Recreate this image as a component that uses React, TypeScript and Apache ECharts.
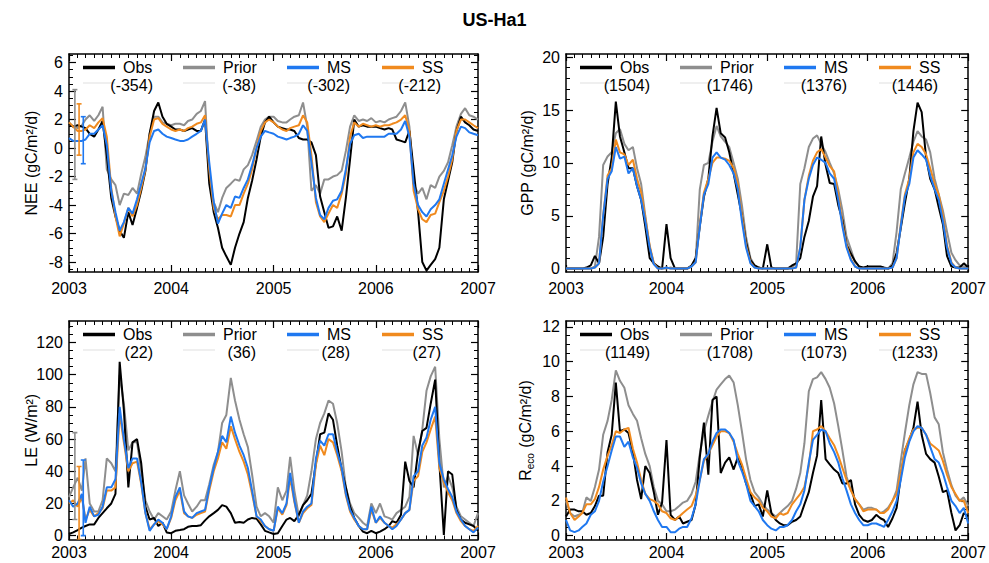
import React, { useEffect, useRef } from 'react';
import * as echarts from 'echarts';

const FONT = '"Liberation Sans", Arial, sans-serif';

// ---------- series meta ----------
const SERIES_NAMES = ['Obs', 'Prior', 'MS', 'SS'];
const SERIES_COLORS = ['#000000', '#8e8e8e', '#1f78f0', '#f08a1e'];
const DRAW_ORDER = [1, 0, 3, 2];
const YEARS = [2003, 2004, 2005, 2006, 2007];

// ---------- sample dates: 1st and 16th of each month, 2003-2006, plus 1 Jan 2007 ----------
const START = Date.UTC(2003, 0, 1);
const dayOf = (y: number, m: number, d: number) => (Date.UTC(y, m, d) - START) / 86400000;
const SAMPLE_DAYS: number[] = [];
for (let y = 2003; y <= 2006; y++) {
  for (let m = 0; m < 12; m++) {
    SAMPLE_DAYS.push(dayOf(y, m, 1));
    SAMPLE_DAYS.push(dayOf(y, m, 16));
  }
}
SAMPLE_DAYS.push(dayOf(2007, 0, 1));

// ---------- NEE (gC/m2/d) ----------
const NEE_OBS = [
  1.7, 1.5, 1.6, 1.5, 1.4, 1.0, 0.8, 1.3, 1.9, -0.5, -3.5, -4.8, -5.8, -6.3, -4.5, -5.4, -4.2, -3.0, -1.6, 1.0, 2.6, 3.2, 2.2, 1.7,
  1.5, 1.3, 1.3, 1.2, 1.3, 1.4, 1.2, 1.2, 2.0, -2.5, -4.5, -5.6, -7.0, -7.6, -8.2, -7.0, -6.0, -5.2, -3.5, -2.3, -0.8, 0.8, 1.8, 2.2,
  1.8, 1.5, 1.4, 1.3, 1.3, 1.2, 0.7, 0.6, 0.6, 0.4, -0.5, -3.4, -4.5, -5.6, -5.5, -4.8, -5.8, -3.5, -0.8, 2.0, 1.5, 1.6, 1.5, 1.5,
  1.5, 1.4, 1.3, 1.4, 1.3, 0.6, 0.5, 0.4, 1.2, -1.5, -4.5, -8.0, -8.6, -8.2, -7.8, -7.0, -3.6, -2.3, -1.0, 1.2, 2.2, 1.8, 1.6, 1.3,
  1.2,
];
const NEE_PRIOR = [
  1.8, 1.5, 1.4, 1.6, 2.0, 2.3, 1.9, 2.3, 2.9, -1.5, -2.2, -2.6, -4.0, -3.2, -3.3, -2.8, -3.2, -1.8, -0.6, 1.0, 2.2, 2.2, 1.8, 1.7,
  1.6, 1.7, 1.7, 1.6, 1.9, 2.0, 2.4, 2.6, 3.3, -2.0, -3.8, -4.5, -3.5, -2.8, -2.5, -2.2, -2.3, -1.5, -1.2, -0.5, 0.5, 1.5, 2.0, 2.2,
  2.2, 1.9, 1.8, 1.8, 2.0, 2.2, 2.3, 3.2, 1.5, -3.0, -2.6, -3.2, -2.2, -2.2, -2.0, -1.9, -1.6, -0.2, 1.5, 2.3, 1.9, 2.0, 1.9, 2.1,
  1.8, 1.9, 1.8, 2.0, 2.1, 2.2, 2.6, 3.2, 1.5, -2.5, -3.2, -2.8, -3.6, -2.6, -2.8, -2.0, -1.6, -1.0, 0.2, 1.5, 2.4, 2.8, 2.3, 2.2,
  2.0,
];
const NEE_MS = [
  0.7, 0.5, 0.5, 0.5, 0.6, 1.0, 1.0, 1.3, 1.6, 0.2, -3.0, -4.5, -5.8, -5.2, -4.2, -4.6, -3.6, -2.5, -1.4, 0.4, 1.2, 1.3, 1.0, 0.8,
  0.7, 0.6, 0.5, 0.5, 0.6, 0.8, 1.0, 1.2, 2.0, -1.0, -3.8, -5.3, -4.6, -4.0, -4.2, -3.4, -3.5, -2.8, -2.2, -1.2, 0.0, 0.8, 1.2, 1.1,
  1.0, 0.8, 0.7, 0.6, 0.7, 0.8, 1.0, 1.6, 1.2, -1.0, -3.5, -4.7, -5.0, -4.2, -3.7, -3.6, -3.0, -1.5, 0.3, 0.9, 1.0, 0.7, 0.8, 0.8,
  0.8, 0.8, 0.8, 1.0, 1.0, 1.0, 1.3, 1.9, 0.8, -2.5, -4.0, -4.5, -4.8, -4.3, -4.0, -3.6, -2.5, -1.5, -0.5, 0.8, 1.5, 1.4, 1.1, 1.0,
  0.9,
];
const NEE_SS = [
  1.8, 1.5, 1.2, 1.2, 1.3, 1.6, 1.4, 1.8, 2.1, 0.8, -2.8, -4.8, -6.2, -5.3, -4.2, -4.8, -4.0, -2.8, -1.5, 0.8, 2.0, 2.1, 1.7, 1.5,
  1.3, 1.2, 1.3, 1.2, 1.4, 1.5, 1.7, 1.8, 2.3, -1.5, -4.2, -5.0, -4.7, -4.7, -4.8, -4.0, -4.0, -3.2, -2.5, -1.5, 0.0, 1.2, 1.8, 2.0,
  1.8, 1.5, 1.3, 1.2, 1.4, 1.5, 1.6, 2.3, 1.8, -0.5, -3.8, -4.8, -5.2, -4.6, -4.0, -4.2, -3.2, -1.8, 0.8, 1.8, 1.5, 1.7, 1.6, 1.5,
  1.6, 1.5, 1.6, 1.6, 1.7, 1.8, 2.0, 2.3, 1.2, -3.0, -4.3, -5.0, -5.2, -4.7, -4.6, -3.8, -3.0, -2.0, -0.8, 1.2, 2.0, 2.0, 1.8, 1.6,
  1.4,
];
const NEE_TOTALS = [-354, -38, -302, -212];

// ---------- GPP (gC/m2/d) ----------
const GPP_OBS = [
  0, 0, 0, 0, 0, 0.1, 0.3, 1.2, 0.5, 3.0, 8.0, 10.5, 15.8, 12.5, 11.0, 9.5, 9.5, 7.8, 6.5, 4.0, 1.0, 0.5, 0.2, 0,
  4.2, 1.0, 0, 0, 0, 0, 0.3, 1.0, 4.0, 6.8, 8.5, 12.5, 15.2, 12.8, 12.4, 11.0, 9.0, 7.0, 5.0, 2.5, 0.8, 0.3, 0.1, 0,
  2.3, 0.1, 0, 0, 0, 0, 0.3, 0.5, 1.0, 3.0, 4.5, 6.8, 7.8, 12.5, 9.8, 8.1, 8.0, 6.0, 4.6, 2.3, 1.4, 0.7, 0.2, 0.1,
  0.2, 0.2, 0.2, 0.2, 0.1, 0, 0.3, 1.5, 3.8, 6.2, 8.5, 13.0, 15.7, 14.8, 10.5, 8.5, 7.5, 5.8, 4.2, 1.2, 0.2, 0.1, 0.1, 0.5,
  0.1,
];
const GPP_PRIOR = [
  0, 0, 0, 0, 0, 0, 0, 0.2, 3.0, 9.8, 10.6, 11.0, 12.8, 13.2, 11.8, 11.2, 11.5, 9.5, 8.0, 5.0, 2.0, 0.5, 0.1, 0,
  0, 0.1, 0, 0, 0, 0, 0.2, 0.8, 7.5, 9.8, 10.0, 12.0, 13.5, 12.5, 12.0, 11.5, 10.0, 8.5, 6.0, 3.0, 1.0, 0.3, 0.1, 0,
  0, 0, 0, 0, 0, 0, 0.1, 0.5, 8.0, 9.5, 11.5, 12.3, 12.6, 11.8, 11.0, 10.0, 9.0, 7.5, 5.5, 3.0, 1.8, 0.6, 0.2, 0,
  0, 0, 0, 0, 0, 0, 0.5, 3.5, 7.5, 9.0, 10.5, 12.0, 13.0, 12.5, 12.2, 11.0, 8.5, 7.0, 5.5, 3.5, 1.5, 0.8, 0.3, 0.2,
  0,
];
const GPP_MS = [
  0, 0, 0, 0, 0, 0, 0, 0.1, 0.5, 5.0, 8.5, 9.2, 11.5, 10.4, 10.6, 9.0, 9.5, 7.8, 6.5, 4.5, 2.0, 0.4, 0, 0,
  0.1, 0, 0, 0, 0, 0, 0.2, 0.6, 4.0, 7.0, 8.0, 10.5, 11.0, 10.5, 10.3, 9.8, 9.0, 7.5, 4.5, 2.0, 0.5, 0.1, 0, 0,
  0, 0, 0, 0, 0, 0, 0, 0.1, 2.0, 6.5, 8.5, 9.8, 10.5, 10.3, 10.0, 9.0, 8.5, 6.5, 4.0, 2.0, 0.8, 0.2, 0, 0,
  0, 0, 0, 0, 0, 0, 0.1, 1.0, 4.0, 6.8, 8.0, 10.5, 11.2, 10.8, 10.3, 8.8, 7.5, 6.5, 4.5, 2.0, 0.5, 0.1, 0, 0,
  0,
];
const GPP_SS = [
  0, 0, 0, 0, 0, 0, 0, 0.1, 0.5, 5.0, 8.8, 9.5, 12.2, 11.0, 10.8, 9.8, 10.3, 8.5, 7.2, 4.8, 2.2, 0.5, 0, 0,
  0.1, 0, 0, 0, 0, 0, 0.2, 0.6, 4.2, 7.2, 8.5, 10.0, 10.5, 10.5, 10.4, 10.2, 9.5, 8.0, 5.0, 2.2, 0.6, 0.1, 0, 0,
  0, 0, 0, 0, 0, 0, 0, 0.1, 2.0, 6.5, 8.8, 10.2, 11.0, 11.3, 10.5, 9.7, 9.2, 7.0, 4.3, 2.2, 0.9, 0.2, 0, 0,
  0, 0, 0, 0, 0, 0, 0.1, 1.0, 4.2, 7.0, 8.5, 11.0, 11.8, 11.5, 10.8, 9.5, 8.0, 7.0, 5.0, 2.2, 0.6, 0.1, 0, 0,
  0,
];
const GPP_TOTALS = [1504, 1746, 1376, 1446];

// ---------- LE (W/m2) ----------
const LE_OBS = [
  1, 2, 3.5, 5, 6, 7, 7, 11, 14, 17, 20, 26, 108, 78, 30, 58, 60, 45, 18, 10, 11, 6, 8, 2,
  1.5, 3, 3.5, 4, 5.5, 6, 6, 6.5, 9.5, 12, 14, 16, 19, 18, 14, 8, 8.5, 8, 10, 11, 10.5, 7, 3, 2,
  1, 1.5, 6, 10, 11, 9, 13, 19, 22, 26, 45, 63, 64, 76, 72, 56, 41, 30, 18, 11, 6, 2.5, 1.5, 3,
  1.5, 2.5, 4, 6, 9, 8, 13, 46, 34, 30, 52, 65, 67, 82, 97, 45, 0.5, 40, 38, 16, 10, 8, 7, 6,
  3,
];
const LE_PRIOR = [
  24, 30, 36, 28, 48, 20, 15, 15, 22, 48, 45, 40, 100, 82, 53, 58, 58, 40, 22, 15, 10, 14, 12, 10,
  15, 28, 40, 25, 20, 15, 18, 22, 22, 32, 44, 52, 70, 75, 98, 84, 72, 63, 55, 38, 18, 12, 14, 12,
  8, 30, 22, 28, 49, 28, 12, 19, 25, 40, 60, 70, 76, 84, 82, 70, 52, 30, 20, 14, 11, 8, 6, 20,
  14, 20, 12, 11, 10, 14, 16, 18, 24, 62, 50, 66, 90, 99, 105, 60, 30, 37, 30, 18, 12, 10, 8, 6,
  14,
];
const LE_MS = [
  22, 18, 20, 26, 8, 18, 12, 13, 18, 30, 30, 35, 80, 60, 42, 48, 48, 33, 14, 3, 7, 10, 8, 4,
  12, 24, 30, 15, 12, 11, 14, 15, 16, 30, 42, 52, 62, 58, 74, 64, 56, 50, 42, 28, 12, 10, 6, 4,
  3, 18, 14, 20, 39, 22, 8, 15, 18, 20, 48, 59, 56, 63, 63, 52, 42, 26, 16, 11, 6, 4, 4, 18,
  8, 12, 8, 6, 4, 6, 10, 14, 16, 37, 40, 56, 61, 72, 80, 45, 35, 29, 24, 15, 10, 6, 4, 2,
  5,
];
const LE_SS = [
  20, 22, 18, 24, 10, 16, 12, 14, 17, 28, 28, 30, 76, 58, 40, 45, 46, 32, 14, 4, 7, 9, 7, 4,
  11, 22, 28, 14, 12, 11, 13, 14, 15, 28, 40, 48, 58, 54, 68, 60, 52, 46, 38, 26, 12, 9, 6, 4,
  3, 17, 13, 19, 36, 21, 8, 14, 17, 19, 44, 56, 50, 60, 58, 50, 40, 25, 15, 10, 6, 4, 4, 16,
  8, 11, 8, 6, 5, 7, 10, 14, 16, 34, 37, 52, 58, 66, 74, 42, 33, 27, 22, 14, 9, 6, 4, 3,
  6,
];
const LE_TOTALS = [22, 36, 28, 27];

// ---------- Reco (gC/m2/d) ----------
const RECO_OBS = [
  1.1, 1.5, 1.5, 1.4, 1.4, 1.2, 1.3, 1.7, 2.3, 2.3, 4.8, 5.8, 8.8, 6.0, 6.1, 5.9, 4.8, 3.2, 2.1, 4.0, 3.6, 2.5, 1.2, 1.9,
  5.5, 1.2, 0.9, 1.1, 0.7, 0.8, 0.9, 1.8, 4.5, 6.5, 3.5, 7.8, 8.0, 3.6, 4.2, 4.5, 3.8, 4.5, 4.0, 3.0, 2.4, 1.7, 1.8, 1.1,
  2.6, 1.3, 0.9, 0.7, 0.6, 0.6, 0.8, 0.9, 1.1, 1.8, 2.5, 3.6, 4.6, 7.8, 4.4, 4.1, 3.8, 3.6, 3.0, 3.0, 3.2, 1.8, 1.2, 0.9,
  0.8, 0.9, 1.2, 1.0, 0.9, 0.5, 1.0, 1.6, 3.4, 4.9, 5.5, 6.2, 7.7, 5.8, 4.7, 4.4, 4.2, 3.4, 2.5, 2.6, 1.3, 0.3, 0.6, 1.3,
  1.1,
];
const RECO_PRIOR = [
  2.0, 1.3, 1.1, 1.2, 1.3, 2.2, 2.0, 2.8, 3.8, 5.8, 6.6, 7.8, 9.5, 8.9, 8.5, 7.5, 7.0, 6.6, 5.6, 4.7, 4.0, 2.8, 2.0, 1.8,
  1.4, 1.4, 1.5, 1.7, 1.9, 2.0, 2.4, 3.1, 4.7, 6.0, 6.9, 7.7, 8.4, 8.7, 9.0, 9.2, 8.8, 7.5, 6.0, 4.4, 3.2, 2.5, 2.2, 1.8,
  1.5, 1.3, 1.1, 1.3, 1.5, 1.7, 2.0, 2.7, 3.6, 5.3, 8.3, 9.0, 9.1, 9.4, 9.0, 8.5, 7.6, 6.3, 4.9, 3.4, 2.6, 2.1, 1.8, 1.5,
  1.6, 1.6, 1.5, 1.3, 1.4, 1.6, 2.0, 2.6, 4.3, 5.9, 7.5, 8.7, 9.4, 9.3, 9.3, 8.2, 6.8, 6.4, 4.8, 3.8, 2.9, 2.3, 2.0, 2.2,
  1.7,
];
const RECO_MS = [
  0.9, 0.3, 0.2, 0.3, 0.5, 0.7, 1.2, 1.4, 2.0, 3.1, 4.0, 4.9, 5.7, 5.7, 5.1, 5.4, 4.5, 3.9, 3.0, 2.4, 2.0, 1.4, 0.9, 0.5,
  0.5, 0.2, 0.2, 0.4, 0.5, 0.5, 1.0, 1.8, 3.2, 4.4, 4.7, 5.4, 5.9, 6.1, 6.1, 5.9, 5.5, 4.3, 3.7, 3.0, 2.0, 1.7, 1.4, 0.9,
  0.6, 0.4, 0.3, 0.5, 0.5, 0.6, 0.9, 1.4, 1.8, 2.6, 4.2, 5.5, 5.8, 6.1, 6.0, 5.3, 4.8, 4.2, 3.3, 2.6, 1.8, 1.3, 0.9, 0.6,
  0.6, 0.7, 0.7, 0.6, 0.5, 0.9, 1.4, 2.0, 3.2, 4.5, 5.4, 6.0, 6.3, 6.2, 5.8, 5.1, 4.4, 4.2, 3.6, 2.8, 2.0, 1.7, 1.3, 1.6,
  0.7,
];
const RECO_SS = [
  2.2, 1.3, 0.9, 1.1, 1.3, 1.8, 1.8, 2.1, 2.8, 3.8, 4.6, 5.2, 6.0, 5.9, 6.1, 6.2, 5.0, 4.2, 3.2, 2.4, 2.1, 2.0, 1.8, 1.4,
  1.3, 1.0, 0.9, 1.1, 1.3, 1.5, 1.7, 2.3, 3.2, 4.3, 4.7, 5.2, 5.7, 6.0, 6.0, 5.9, 5.4, 4.7, 4.1, 3.3, 2.5, 2.2, 2.0, 1.6,
  1.4, 1.1, 1.0, 1.3, 1.2, 1.3, 1.8, 2.1, 2.4, 2.8, 4.0, 6.0, 6.1, 6.3, 6.0, 5.6, 5.2, 4.6, 3.9, 3.2, 2.6, 2.1, 1.8, 1.4,
  1.5, 1.5, 1.5, 1.3, 1.3, 1.5, 2.0, 2.4, 3.6, 4.9, 5.6, 6.1, 6.2, 6.2, 5.8, 5.3, 5.1, 4.9, 4.3, 3.5, 2.8, 2.4, 2.0, 2.0,
  1.3,
];
const RECO_TOTALS = [1149, 1708, 1073, 1233];

// ---------- error bars (Prior, SS, MS uncertainty in early 2003) ----------
const ERR_DAYS = [21, 36, 51];
const ERR_COLORS = ['#8e8e8e', '#f08a1e', '#1f78f0'];
const NEE_ERR_LOW = [-2.2, -0.5, -1.1];
const NEE_ERR_HIGH = [4.1, 3.1, 2.2];
const LE_ERR_LOW = [10, -2.4, 0];
const LE_ERR_HIGH = [64, 43, 47];

// ---------- axis ticks ----------
const YEAR_TICKS = YEARS.map((y) => dayOf(y, 0, 1));
const MONTH_TICKS: number[] = [];
for (let y = 2003; y <= 2006; y++) for (let m = 0; m < 12; m++) MONTH_TICKS.push(dayOf(y, m, 1));
MONTH_TICKS.push(dayOf(2007, 0, 1));
const X_MAX = dayOf(2007, 0, 1);

const NEE_TICKS = [-8, -6, -4, -2, 0, 2, 4, 6];
const GPP_TICKS = [0, 5, 10, 15, 20];
const LE_TICKS = [0, 20, 40, 60, 80, 100, 120];
const RECO_TICKS = [0, 2, 4, 6, 8, 10, 12];

// ---------- layout ----------
const LEG_LINE_START = [14, 114, 218, 313];
const LEG_NUM_RIGHT = [84, 187, 281, 372];

const PANELS = [
  {
    left: 69, top: 54, width: 409, height: 218, yMin: -8.7, yMax: 6.6, major: NEE_TICKS, minorStep: 0.5,
    name: 'NEE (gC/m²/d)', nameGap: 30, labelMargin: 10, data: [NEE_OBS, NEE_PRIOR, NEE_MS, NEE_SS], totals: NEE_TOTALS,
    errLow: NEE_ERR_LOW, errHigh: NEE_ERR_HIGH,
  },
  {
    left: 566, top: 54, width: 409, height: 218, yMin: -0.32, yMax: 20.3, major: GPP_TICKS, minorStep: 1,
    name: 'GPP (gC/m²/d)', nameGap: 31, labelMargin: 10, data: [GPP_OBS, GPP_PRIOR, GPP_MS, GPP_SS], totals: GPP_TOTALS,
    errLow: null, errHigh: null,
  },
  {
    left: 69, top: 321, width: 409, height: 218.5, yMin: -2.4, yMax: 133.4, major: LE_TICKS, minorStep: 5,
    name: 'LE (W/m²)', nameGap: 30, labelMargin: 6.5, data: [LE_OBS, LE_PRIOR, LE_MS, LE_SS], totals: LE_TOTALS,
    errLow: LE_ERR_LOW, errHigh: LE_ERR_HIGH,
  },
  {
    left: 566, top: 321, width: 409, height: 219, yMin: -0.25, yMax: 12.34, major: RECO_TICKS, minorStep: 0.5,
    name: '{n|R}{s|eco}{n| (gC/m²/d)}', nameGap: 31, labelMargin: 6, data: [RECO_OBS, RECO_PRIOR, RECO_MS, RECO_SS], totals: RECO_TOTALS,
    errLow: null, errHigh: null,
  },
];

function minorTicks(min: number, max: number, step: number): number[] {
  const out: number[] = [];
  const start = Math.ceil(min / step);
  const end = Math.floor(max / step);
  for (let i = start; i <= end; i++) out.push(+(i * step).toFixed(4));
  return out;
}

function buildOption() {
  const grid: any[] = [];
  const xAxis: any[] = [];
  const yAxis: any[] = [];
  const series: any[] = [];
  const elements: any[] = [];
  const lineCol = '#000';

  PANELS.forEach((p, i) => {
    grid.push({ left: p.left, top: p.top, width: p.width, height: p.height, containLabel: false });

    const xBase = {
      type: 'value', gridIndex: i, min: 0, max: X_MAX,
      splitLine: { show: false },
      axisLine: { show: true, onZero: false, lineStyle: { color: lineCol, width: 1.5 } },
    };
    const yearTick = { show: true, inside: true, length: 7, customValues: YEAR_TICKS, lineStyle: { color: lineCol, width: 1.2 } };
    const monthTick = { show: true, inside: true, length: 4, customValues: MONTH_TICKS, lineStyle: { color: lineCol, width: 1 } };
    xAxis.push({
      ...xBase, position: 'bottom', axisTick: yearTick,
      axisLabel: {
        show: true, customValues: YEAR_TICKS, margin: p.labelMargin, fontSize: 16, lineHeight: 12, fontFamily: FONT, color: '#000',
        formatter: (v: number) => String(2003 + Math.round(v / 365.25)),
      },
    });
    xAxis.push({ ...xBase, position: 'bottom', axisLine: { show: false, onZero: false }, axisTick: monthTick, axisLabel: { show: false } });
    xAxis.push({ ...xBase, position: 'top', axisTick: yearTick, axisLabel: { show: false } });
    xAxis.push({ ...xBase, position: 'top', axisLine: { show: false, onZero: false }, axisTick: monthTick, axisLabel: { show: false } });

    const minors = minorTicks(p.yMin, p.yMax, p.minorStep);
    const yBase = {
      type: 'value', gridIndex: i, min: p.yMin, max: p.yMax,
      splitLine: { show: false },
      axisLine: { show: true, onZero: false, lineStyle: { color: lineCol, width: 1.5 } },
    };
    const majTick = { show: true, inside: true, length: 7, customValues: p.major, lineStyle: { color: lineCol, width: 1.2 } };
    const minTick = { show: true, inside: true, length: 4, customValues: minors, lineStyle: { color: lineCol, width: 1 } };
    yAxis.push({
      ...yBase, position: 'left', axisTick: majTick,
      axisLabel: { show: true, customValues: p.major, margin: 6, fontSize: 16, lineHeight: 12, fontFamily: FONT, color: '#000' },
      name: p.name, nameLocation: 'middle', nameGap: p.nameGap, nameMoveOverlap: false,
      nameTextStyle: {
        fontSize: 16, fontFamily: FONT, color: '#000',
        rich: {
          n: { fontSize: 16, fontFamily: FONT, color: '#000' },
          s: { fontSize: 10, fontFamily: FONT, color: '#000', verticalAlign: 'bottom', padding: [9, 1, 0, 0] },
        },
      },
    });
    yAxis.push({ ...yBase, position: 'left', axisLine: { show: false, onZero: false }, axisTick: minTick, axisLabel: { show: false } });
    yAxis.push({ ...yBase, position: 'right', axisTick: majTick, axisLabel: { show: false } });
    yAxis.push({ ...yBase, position: 'right', axisLine: { show: false, onZero: false }, axisTick: minTick, axisLabel: { show: false } });

    DRAW_ORDER.forEach((s) => {
      const arr = p.data[s];
      series.push({
        type: 'line', name: SERIES_NAMES[s], xAxisIndex: 4 * i, yAxisIndex: 4 * i,
        data: SAMPLE_DAYS.map((d, k) => [d, arr[k]]),
        showSymbol: false, symbol: 'none', smooth: false,
        lineStyle: { color: SERIES_COLORS[s], width: 2 },
        itemStyle: { color: SERIES_COLORS[s] },
        z: 2,
      });
    });

    if (p.errLow && p.errHigh) {
      const lo = p.errLow;
      const hi = p.errHigh;
      series.push({
        type: 'custom', xAxisIndex: 4 * i, yAxisIndex: 4 * i, z: 4,
        data: ERR_DAYS.map((d, j) => [d, lo[j], hi[j], j]),
        encode: { x: 0, y: [1, 2] },
        clip: true,
        renderItem: (_params: any, api: any) => {
          const x = api.value(0);
          const top = api.coord([x, api.value(2)]);
          const bot = api.coord([x, api.value(1)]);
          const c = ERR_COLORS[api.value(3)];
          const hw = 2.5;
          const style = { stroke: c, lineWidth: 1.6 };
          return {
            type: 'group',
            children: [
              { type: 'line', shape: { x1: top[0], y1: top[1], x2: bot[0], y2: bot[1] }, style },
              { type: 'line', shape: { x1: top[0] - hw, y1: top[1], x2: top[0] + hw, y2: top[1] }, style },
              { type: 'line', shape: { x1: bot[0] - hw, y1: bot[1], x2: bot[0] + hw, y2: bot[1] }, style },
            ],
          };
        },
      });
    }

    // legend
    for (let j = 0; j < 4; j++) {
      const x0 = p.left + LEG_LINE_START[j];
      const y0 = p.top + 13;
      elements.push({
        type: 'line', silent: true, z: 10,
        shape: { x1: x0, y1: y0 + 0.5, x2: x0 + 32, y2: y0 + 0.5 },
        style: { stroke: SERIES_COLORS[j], lineWidth: 3.5 },
      });
      elements.push({
        type: 'line', silent: true, z: 10,
        shape: { x1: x0, y1: y0 + 16, x2: x0 + 32, y2: y0 + 16 },
        style: { stroke: '#efefef', lineWidth: 2 },
      });
      elements.push({
        type: 'text', silent: true, z: 10, x: x0 + 40, y: y0,
        style: {
          text: SERIES_NAMES[j], fill: '#000', font: `16px ${FONT}`, lineHeight: 12,
          align: 'left', verticalAlign: 'middle', textAlign: 'left', textVerticalAlign: 'middle',
        },
      });
      elements.push({
        type: 'text', silent: true, z: 10, x: p.left + LEG_NUM_RIGHT[j], y: p.top + 31,
        style: {
          text: `(${p.totals[j]})`, fill: '#000', font: `16px ${FONT}`, lineHeight: 12,
          align: 'right', verticalAlign: 'middle', textAlign: 'right', textVerticalAlign: 'middle',
        },
      });
    }
  });

  return {
    animation: false,
    backgroundColor: '#ffffff',
    title: {
      text: 'US-Ha1', left: 'center', top: 6,
      textStyle: { fontSize: 18, fontWeight: 'bold', fontFamily: FONT, color: '#000' },
    },
    grid, xAxis, yAxis, series,
    graphic: { elements },
  };
}

export default function App() {
  const ref = useRef<HTMLDivElement>(null);
  useEffect(() => {
    if (!ref.current) return;
    const chart = echarts.init(ref.current, undefined, { renderer: 'svg' });
    chart.setOption(buildOption() as any);
    return () => chart.dispose();
  }, []);
  return (
    <div
      ref={ref}
      style={{ position: 'fixed', left: 0, top: 0, width: 989, height: 563, background: '#fff' }}
    />
  );
}
